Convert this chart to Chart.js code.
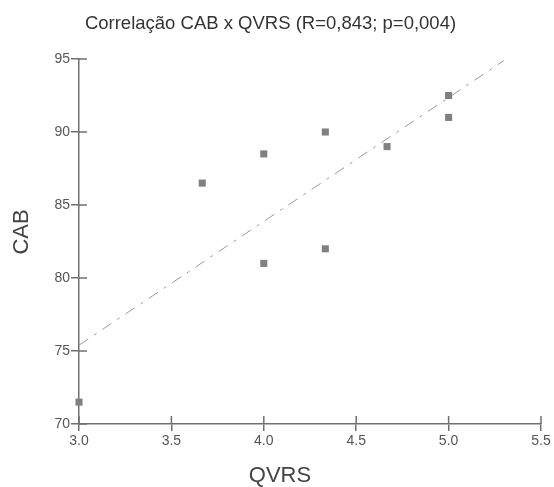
<!DOCTYPE html>
<html>
<head>
<meta charset="utf-8">
<script src="https://cdn.jsdelivr.net/npm/chart.js@4/dist/chart.umd.min.js"></script>
<style>
    html, body { margin: 0; padding: 0; background: #fff; }
    #wrap { width: 554px; height: 487px; }
</style>
</head>
<body>
<div id="wrap"><canvas id="corr-chart"></canvas></div>
<script>
// Scatter data: QVRS score vs CAB
const qvrs = [3.0, 3.667, 4.0, 4.0, 4.333, 4.333, 4.667, 5.0, 5.0];
const cab = [71.5, 86.5, 88.5, 81.0, 90.0, 82.0, 89.0, 92.5, 91.0];

// Fitted regression line endpoints
const fitX = [3.0, 5.3];
const fitY = [75.4, 94.9];

const xTicks = [3.0, 3.5, 4.0, 4.5, 5.0, 5.5];
const yTicks = [70, 75, 80, 85, 90, 95];

const axisColor = '#707070';
const textColor = '#555555';
const fontFamily = 'Liberation Sans, Arial, sans-serif';

// Inner half of each tick so the marks cross the axis line,
// plus the two axis titles
const axisDecor = {
    id: 'axisDecor',
    afterDraw(chart) {
        const ctx = chart.ctx;
        const x = chart.scales.x;
        const y = chart.scales.y;
        ctx.save();
        ctx.strokeStyle = axisColor;
        ctx.lineWidth = 1.5;
        ctx.beginPath();
        xTicks.forEach(v => {
            const px = x.getPixelForValue(v);
            ctx.moveTo(px, y.bottom);
            ctx.lineTo(px, y.bottom - 8);
        });
        yTicks.forEach(v => {
            const py = y.getPixelForValue(v);
            ctx.moveTo(x.left, py);
            ctx.lineTo(x.left + 8, py);
        });
        ctx.stroke();

        ctx.fillStyle = '#444444';
        ctx.font = '22px ' + fontFamily;
        ctx.textAlign = 'center';
        ctx.textBaseline = 'middle';
        ctx.fillText('QVRS', 280, 476);
        ctx.translate(22, 232);
        ctx.rotate(-Math.PI / 2);
        ctx.fillText('CAB', 0, 0);
        ctx.restore();
    }
};

const ctx = document.getElementById('corr-chart');

new Chart(ctx, {
    type: 'scatter',
    data: {
        datasets: [{
            label: 'CAB',
            data: qvrs.map((v, i) => ({ x: v, y: cab[i] })),
            pointStyle: 'rect',
            pointRadius: 5,
            pointHoverRadius: 5,
            backgroundColor: '#808080',
            borderWidth: 0,
            clip: false
        }, {
            label: 'Regressão',
            type: 'line',
            data: fitX.map((v, i) => ({ x: v, y: fitY[i] })),
            borderColor: '#9a9a9a',
            borderWidth: 1,
            borderDash: [11, 7, 3, 7],
            pointRadius: 0,
            fill: false,
            clip: false
        }]
    },
    options: {
        responsive: true,
        maintainAspectRatio: false,
        animation: false,
        layout: {
            padding: { left: 0, right: 13, top: 0, bottom: 0 }
        },
        plugins: {
            legend: { display: false },
            tooltip: { enabled: false },
            title: {
                display: true,
                text: 'Correlação CAB x QVRS (R=0,843; p=0,004)',
                color: '#333333',
                font: { family: fontFamily, size: 18.5, weight: 'normal' },
                padding: { top: 13, bottom: 23.8 }
            }
        },
        scales: {
            x: {
                type: 'linear',
                min: 3.0,
                max: 5.5,
                afterBuildTicks(scale) {
                    scale.ticks = xTicks.map(v => ({ value: v }));
                },
                afterFit(scale) {
                    scale.height = 63;
                },
                border: { display: true, color: axisColor, width: 1.5 },
                grid: {
                    drawOnChartArea: false,
                    drawTicks: true,
                    tickLength: 7,
                    color: axisColor,
                    lineWidth: 1.5
                },
                ticks: {
                    color: textColor,
                    padding: 2,
                    font: { family: fontFamily, size: 14 },
                    callback: v => Number(v).toFixed(1)
                }
            },
            y: {
                type: 'linear',
                min: 70,
                max: 95,
                afterBuildTicks(scale) {
                    scale.ticks = yTicks.map(v => ({ value: v }));
                },
                afterFit(scale) {
                    scale.width = 79;
                },
                border: { display: true, color: axisColor, width: 1.5 },
                grid: {
                    drawOnChartArea: false,
                    drawTicks: true,
                    tickLength: 8,
                    color: axisColor,
                    lineWidth: 1.5
                },
                ticks: {
                    color: textColor,
                    padding: 1,
                    font: { family: fontFamily, size: 14 }
                }
            }
        }
    },
    plugins: [axisDecor]
});
</script>
</body>
</html>
